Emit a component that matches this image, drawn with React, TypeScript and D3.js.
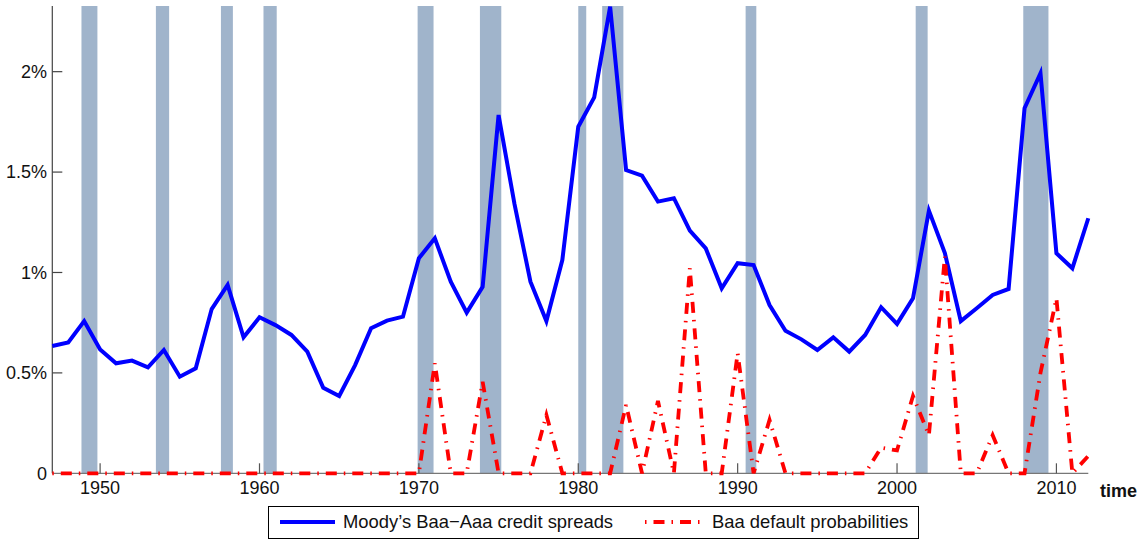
import React from 'react';
import * as d3 from 'd3';

const years = [
  1947, 1948, 1949, 1950, 1951, 1952, 1953, 1954, 1955, 1956,
  1957, 1958, 1959, 1960, 1961, 1962, 1963, 1964, 1965, 1966,
  1967, 1968, 1969, 1970, 1971, 1972, 1973, 1974, 1975, 1976,
  1977, 1978, 1979, 1980, 1981, 1982, 1983, 1984, 1985, 1986,
  1987, 1988, 1989, 1990, 1991, 1992, 1993, 1994, 1995, 1996,
  1997, 1998, 1999, 2000, 2001, 2002, 2003, 2004, 2005, 2006,
  2007, 2008, 2009, 2010, 2011, 2012,
];

// Moody's Baa-Aaa credit spreads, in %
const spreads = [
  0.634, 0.652, 0.758, 0.617, 0.548, 0.561, 0.528, 0.614, 0.481, 0.523,
  0.818, 0.938, 0.677, 0.777, 0.738, 0.689, 0.606, 0.426, 0.385, 0.539,
  0.722, 0.76, 0.78, 1.071, 1.17, 0.954, 0.8, 0.929, 1.784, 1.34,
  0.954, 0.758, 1.062, 1.726, 1.872, 2.324, 1.51, 1.482, 1.353, 1.37,
  1.208, 1.12, 0.921, 1.046, 1.037, 0.838, 0.71, 0.667, 0.614, 0.677,
  0.606, 0.689, 0.827, 0.744, 0.871, 1.308, 1.097, 0.758, 0.822, 0.888,
  0.918, 1.818, 1.992, 1.096, 1.021, 1.27,
];

// Baa default probabilities, in %
const defaults = [
  0, 0, 0, 0, 0, 0, 0, 0, 0, 0,
  0, 0, 0, 0, 0, 0, 0, 0, 0, 0,
  0, 0, 0, 0, 0.548, 0, 0, 0.456, 0, 0,
  0, 0.29, 0, 0, 0, 0, 0.34, 0, 0.36, 0,
  1.021, 0, 0, 0.598, 0, 0.266, 0, 0, 0, 0,
  0, 0, 0.128, 0.114, 0.385, 0.19, 1.079, 0, 0, 0.19,
  0, 0, 0.5, 0.871, 0, 0.086,
];

// NBER recessions (start, end)
const recessionStarts = [1948.83, 1953.5, 1957.58, 1960.25, 1969.92, 1973.83, 1980.0, 1981.5, 1990.5, 2001.17, 2007.92];
const recessionEnds = [1949.83, 1954.33, 1958.33, 1961.08, 1970.92, 1975.17, 1980.5, 1982.83, 1991.17, 2001.92, 2009.5];

const yTicks = [0, 0.5, 1, 1.5, 2];
const yTickLabels = ['0', '0.5%', '1%', '1.5%', '2%'];
const xTicks = [1950, 1960, 1970, 1980, 1990, 2000, 2010];
const xTickLabels = ['1950', '1960', '1970', '1980', '1990', '2000', '2010'];

const seriesNames = ['Moody\u2019s Baa\u2212Aaa credit spreads', 'Baa default probabilities'];

export default function App() {
  const W = 1139;
  const H = 540;
  const x = d3.scaleLinear().domain([1947, 2012]).range([52.3, 1088.3]);
  const y = d3.scaleLinear().domain([0, 2.327]).range([473.3, 6]);
  const font = '"Liberation Sans", Arial, sans-serif';

  const spreadLine = d3
    .line<number>()
    .x((_, i) => x(years[i]))
    .y((d) => y(d))(spreads) as string;
  const defaultLine = d3
    .line<number>()
    .x((_, i) => x(years[i]))
    .y((d) => y(d))(defaults) as string;

  const red = '#ff0000';
  const blue = '#0000ff';
  const dash = '1.5 7 11 7';

  return (
    <svg
      width={W}
      height={H}
      style={{ position: 'absolute', left: 0, top: 0, background: '#fff' }}
      fontFamily={font}
    >
      <rect x={0} y={0} width={W} height={H} fill="#fff" />
      {recessionStarts.map((s, i) => (
        <rect
          key={i}
          x={x(s)}
          y={y.range()[1]}
          width={x(recessionEnds[i]) - x(s)}
          height={y(0) - y.range()[1]}
          fill="#a0b4cb"
        />
      ))}
      {/* axes */}
      <line x1={x(1947)} x2={x(2012)} y1={y(0)} y2={y(0)} stroke="#777" strokeWidth={1.2} />
      <line x1={x(1947)} x2={x(1947)} y1={y.range()[1]} y2={y(0)} stroke="#444" strokeWidth={1.2} />
      {yTicks.map((t, i) => (
        <g key={'y' + i}>
          {t > 0 && <line x1={x(1947)} x2={x(1947) + 10} y1={y(t)} y2={y(t)} stroke="#444" strokeWidth={1.2} />}
          <text x={47} y={y(t)} dy="0.35em" textAnchor="end" fontSize={18} fill="#111">
            {yTickLabels[i]}
          </text>
        </g>
      ))}
      {xTicks.map((t, i) => (
        <g key={'x' + i}>
          <line x1={x(t)} x2={x(t)} y1={y(0)} y2={y(0) - 10} stroke="#555" strokeWidth={1.2} />
          <text x={x(t)} y={494} textAnchor="middle" fontSize={18} fill="#111">
            {xTickLabels[i]}
          </text>
        </g>
      ))}
      <text x={1100} y={497} fontSize={18} fontWeight="bold" fill="#111">
        time
      </text>
      {/* series */}
      <path d={spreadLine} fill="none" stroke={blue} strokeWidth={4} strokeLinejoin="miter" />
      <path d={defaultLine} fill="none" stroke={red} strokeWidth={3.8} strokeDasharray={dash} />
      {/* legend */}
      <rect x={268.5} y={506.5} width={650} height={32} fill="#fff" stroke="#000" strokeWidth={1} />
      <line x1={280} x2={335} y1={522} y2={522} stroke={blue} strokeWidth={4} />
      <text x={343} y={522} dy="0.35em" fontSize={18.4} fill="#111">
        {seriesNames[0]}
      </text>
      <line x1={645} x2={701} y1={522} y2={522} stroke={red} strokeWidth={3.8} strokeDasharray={dash} />
      <text x={712} y={522} dy="0.35em" fontSize={18.4} fill="#111">
        {seriesNames[1]}
      </text>
    </svg>
  );
}
